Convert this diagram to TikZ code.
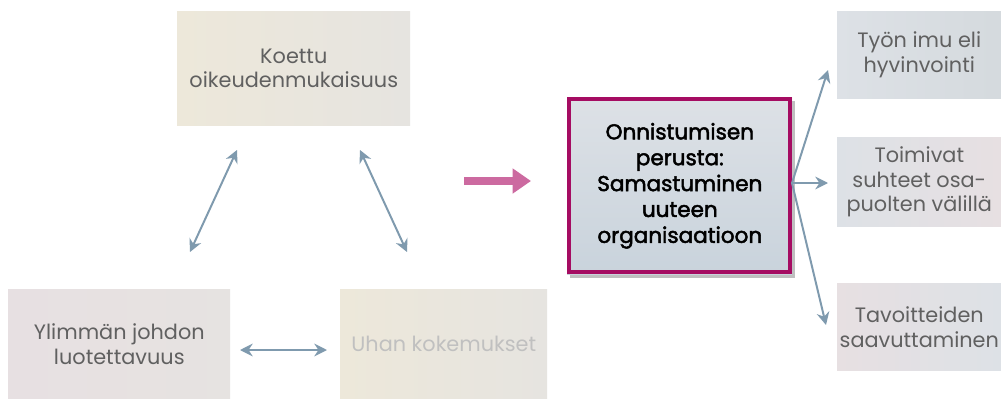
\documentclass[tikz,border=0pt]{standalone}
\usepackage{fontspec}
\setmainfont{Poppins}
\usetikzlibrary{arrows.meta,shadows,shapes.arrows}
\definecolor{arr}{HTML}{7F9AAE}
\definecolor{txt}{HTML}{606060}
\definecolor{mag}{HTML}{A50C62}
\definecolor{pinkarr}{HTML}{CC6AA0}
\definecolor{boxA}{HTML}{E6E4E0}
\definecolor{boxB}{HTML}{E7E0E2}
\definecolor{boxC}{HTML}{EDE8DA}
\definecolor{boxD}{HTML}{DDE1E6}
\definecolor{boxE}{HTML}{C9D3DC}
\tikzset{
  x=0.025cm, y=-0.025cm,
  fbox/.style={inner sep=0pt, text=txt, align=center, font=\fontsize{14.8}{17.7}\selectfont, anchor=north west},
  conn/.style={draw=arr, line width=1.4pt, {Stealth[length=9pt,width=9pt]}-{Stealth[length=9pt,width=9pt]}},
  outarrow/.style={draw=arr, line width=1.4pt, -{Stealth[length=9pt,width=9pt]}},
}
\begin{document}
\begin{tikzpicture}
\useasboundingbox (0,0) rectangle (1001,401);
\fill[white] (0,0) rectangle (1001,401);
% boxes
\shade[left color=boxC, right color=boxA] (177,11) rectangle (410,125);
\node[fbox] (koe) at (177,11) {\begin{minipage}[c][2.85cm][c]{5.825cm}\centering Koettu\\oikeudenmukaisuus\end{minipage}};
\shade[left color=boxB, right color=boxA!70!boxB] (8,289) rectangle (230,398);
\node[fbox] (yli) at (8,289) {\begin{minipage}[c][2.725cm][c]{5.55cm}\centering Ylimmän johdon\\luotettavuus\end{minipage}};
\shade[left color=boxC, right color=boxA] (340,289) rectangle (547,398);
\node[fbox, text=txt!40] (uha) at (340,289) {\begin{minipage}[c][2.725cm][c]{5.175cm}\centering Uhan kokemukset\end{minipage}};
% center box
\shade[top color=boxD, bottom color=boxE, drop shadow={shadow xshift=2pt, shadow yshift=-3pt, opacity=0.5}] (567,97) rectangle (792,274);
\draw[mag, line width=3.2pt] (569,99) rectangle (790,272);
\node[fbox, text=black, font=\fontsize{15.3}{18.4}\selectfont\addfontfeature{FakeBold=2.2}] (cen) at (567,97) {\begin{minipage}[c][4.425cm][c]{5.625cm}\centering Onnistumisen\\perusta:\\Samastuminen\\uuteen\\organisaatioon\end{minipage}};
% right boxes
\shade[left color=boxD, right color=boxE!60!boxA] (837,11) rectangle (1001,98);
\node[fbox] (tyo) at (837,11) {\begin{minipage}[c][2.175cm][c]{4.1cm}\centering Työn imu eli\\hyvinvointi\end{minipage}};
\shade[left color=boxD, right color=boxB] (837,137) rectangle (1001,226);
\node[fbox] (toi) at (837,137) {\begin{minipage}[c][2.225cm][c]{4.1cm}\centering Toimivat\\suhteet osa-\\puolten välillä\end{minipage}};
\shade[left color=boxB, right color=boxD] (837,283) rectangle (1001,370);
\node[fbox] (tav) at (837,283) {\begin{minipage}[c][2.175cm][c]{4.1cm}\centering Tavoitteiden\\saavuttaminen\end{minipage}};
% connector endpoints
\coordinate (k1) at (237,150); \coordinate (y1) at (190,252);
\coordinate (k2) at (360,150); \coordinate (u2) at (407,252);
\coordinate (y3) at (240,350); \coordinate (u3) at (327,350);
\coordinate (p1) at (464,181); \coordinate (p2) at (531,181);
\coordinate (c0) at (792,183);
\coordinate (t1) at (828,70); \coordinate (t2) at (828,183); \coordinate (t3) at (826,325);
\draw[conn] (k1) -- (y1);
\draw[conn] (k2) -- (u2);
\draw[conn] (y3) -- (u3);
\draw[pinkarr, line width=6pt, -{Triangle[length=13pt,width=17pt]}] (p1) -- (p2);
\draw[outarrow] (c0) -- (t1);
\draw[outarrow] (c0) -- (t2);
\draw[outarrow] (c0) -- (t3);
\end{tikzpicture}
\end{document}
